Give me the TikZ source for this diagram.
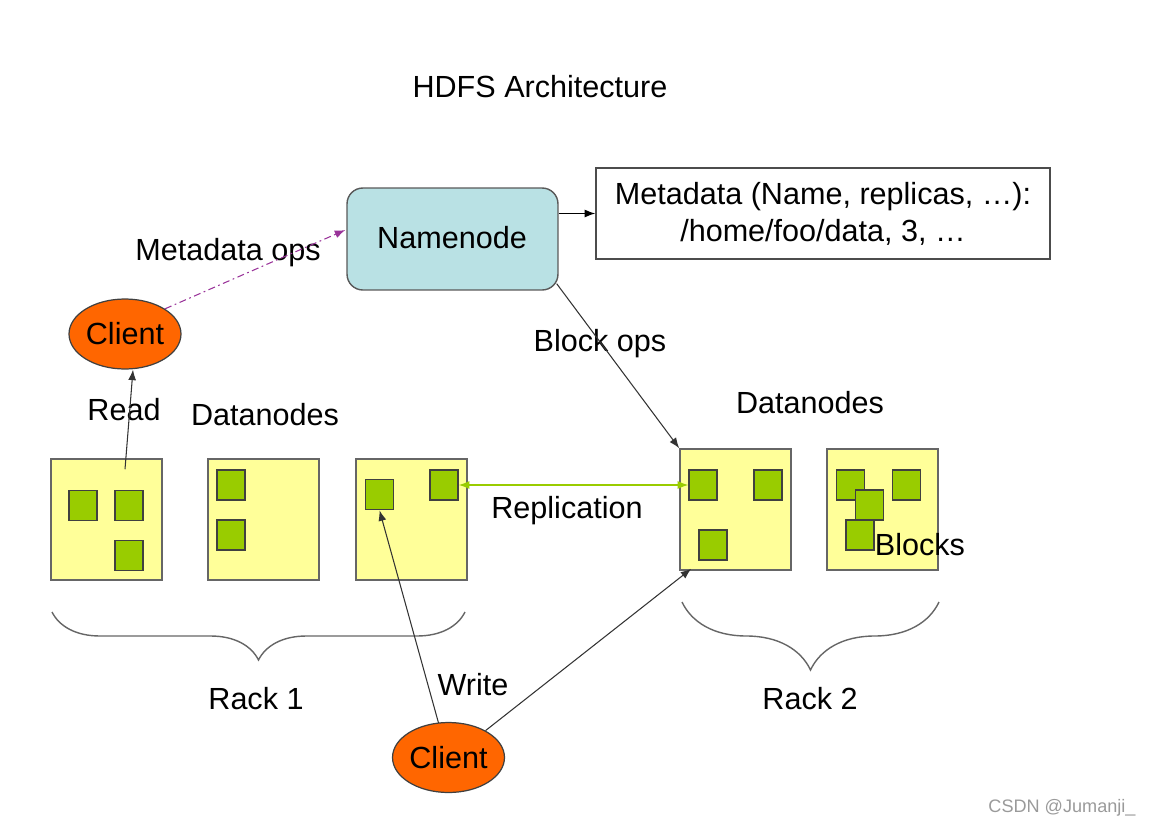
\documentclass[tikz,border=0pt]{standalone}
\usepackage{fontspec}
\setmainfont{Liberation Sans}
\usetikzlibrary{arrows.meta, shapes.geometric, positioning, calc, decorations.pathreplacing}
\definecolor{dnyellow}{HTML}{FFFF99}
\definecolor{blkgreen}{HTML}{99CC00}
\definecolor{nnblue}{HTML}{B9E1E4}
\definecolor{clorange}{HTML}{FF6600}
\definecolor{opspurple}{HTML}{993399}
\definecolor{markgray}{HTML}{9A9A9A}

\begin{document}
\begin{tikzpicture}[x=0.02cm,y=-0.02cm,font=\fontsize{17.4}{21}\selectfont,>={Latex[length=6pt,width=4.5pt]},line width=0.6pt]

	\tikzset{node dn/.style={draw=gray!80!black, fill=dnyellow, line width=0.9pt,
			minimum width=2.22cm, minimum height=2.42cm, inner sep=0pt}}
	\tikzset{node blk/.style={draw=black!75, fill=blkgreen, line width=0.9pt,
			minimum width=0.56cm, minimum height=0.6cm, inner sep=0pt}}
	\tikzset{node cl/.style={ellipse, draw=black!75, fill=clorange, line width=0.7pt,
			minimum width=2.24cm, minimum height=1.4cm, inner sep=0pt}}
	\tikzset{rack brace/.style={draw=gray!80!black, line width=0.8pt,
			decorate, decoration={brace, mirror, amplitude=#1}}}

	\useasboundingbox (0,0) rectangle (1152,828);

	\node (title) at (540,87) {HDFS Architecture};

	% namenode and its metadata
	\node[draw=gray!70!black, fill=nnblue, rounded corners=9pt, line width=0.8pt,
		minimum width=4.22cm, minimum height=2.04cm] (nn) at (452.5,239) {};
	\node at (452,238) {Namenode};
	\node[draw=gray!60!black, line width=0.9pt, minimum width=9.08cm, minimum height=1.82cm,
		align=center, inner sep=0pt] (md) at (823,213.5)
		{\baselineskip=24.4pt Metadata (Name, replicas, …):\\/home/foo/data, 3, …};

	% clients
	\node[node cl] (c1) at (125,334) {Client};
	\node[node cl] (c2) at (448.5,757.5) {Client};

	% datanodes, rack 1
	\node[node dn] (dn1) at (106.5,519.5) {};
	\node[node dn] (dn2) at (263.5,519.5) {};
	\node[node dn] (dn3) at (411.5,519.5) {};
	\node[node blk] (b11) at (83,505.5) {};
	\node[node blk] (b12) at (129,505.5) {};
	\node[node blk] (b13) at (129,555.5) {};
	\node[node blk] (b21) at (231,485) {};
	\node[node blk] (b22) at (231,535) {};
	\node[node blk] (b31) at (379.5,494.5) {};
	\node[node blk] (b32) at (444,485) {};

	% datanodes, rack 2
	\node[node dn] (dn4) at (735.5,509.5) {};
	\node[node dn] (dn5) at (882.5,509.5) {};
	\node[node blk] (b41) at (703,485) {};
	\node[node blk] (b42) at (768,485) {};
	\node[node blk] (b43) at (713,545) {};
	\node[node blk] (b51) at (850.5,485) {};
	\node[node blk] (b52) at (906.5,485) {};
	\node[node blk] (b53) at (869.5,505) {};
	\node[node blk] (b54) at (860,535) {};
	\node (blocks) at (920,545) {Blocks};

	% labels
	\node (lmeta) at (228,253) {Metadata ops};
	\node (lread) at (124,410) {Read};
	\node (ldn1) at (265,415) {Datanodes};
	\node (ldn2) at (810,403) {Datanodes};
	\node (lblock) at (600,344) {Block ops};
	\node (lrepl) at (567,511) {Replication};
	\node (lwrite) at (473,685) {Write};
	\node (rack1) at (256,699) {Rack 1};
	\node (rack2) at (810,699) {Rack 2};
	\node[text=markgray, font=\fontsize{10.3}{12}\selectfont] (mark) at (1062,808) {CSDN @Jumanji\_};

	% racks
	\draw[rack brace=0.96cm] (52,612) -- (465,612);
	\draw[rack brace=1.36cm] (682,602) -- (939,602);

	% connectors
	\draw[->] (nn.east |- md.west) -- (md.west);
	\draw[->, opspurple, dash pattern=on 4pt off 2pt on 1pt off 2pt] (c1.north east) -- ($(nn.west)+(-1,-9)$);
	\draw[->, black!80] ($(nn.south east)+(-2,-7)$) -- (dn4.north west);
	\draw[->, black!80] ($(dn1.north)+(18.5,11)$) -- ($(c1.south)+(8,0)$);
	\draw[<->, blkgreen] (b32.east) -- (b41.west);
	\draw[->, black!80] ($(c2.north)+(-10,1)$) -- (b31.south);
	\draw[->, black!80] (c2.36) -- ($(b43.south west)+(-7,8)$);

\end{tikzpicture}
\end{document}
